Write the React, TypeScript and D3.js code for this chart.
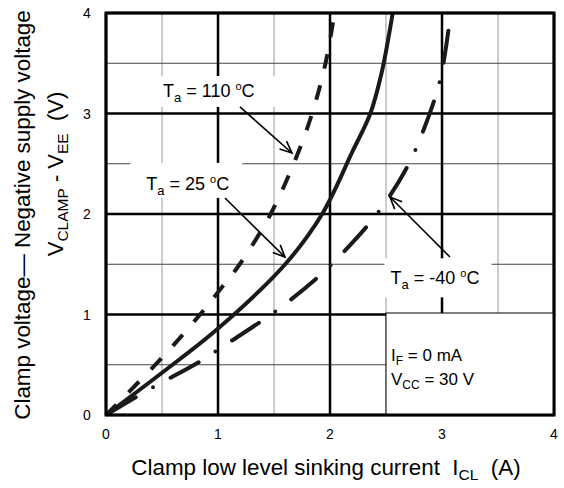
import React from 'react';
import * as d3 from 'd3';

const xTicks = [0, 1, 2, 3, 4];
const yTicks = [0, 1, 2, 3, 4];
const minorTicks = [0.5, 1.5, 2.5, 3.5];

const curve110: [number, number][] = [
  [0, 0], [0.5, 0.57], [0.84, 1], [1.02, 1.25], [1.2, 1.51], [1.47, 2],
  [1.69, 2.54], [1.84, 3], [1.96, 3.5], [2.04, 4],
];
const curve25: [number, number][] = [
  [0, 0], [0.5, 0.42], [1, 0.86], [1.6, 1.5], [1.93, 2],
  [2.2, 2.62], [2.36, 3], [2.46, 3.4], [2.56, 4],
];
const curveM40: [number, number][] = [
  [0, 0], [0.41, 0.27], [0.82, 0.52], [1.11, 0.73], [1.51, 1.03], [1.88, 1.36],
  [2.12, 1.62], [2.44, 2.03], [2.69, 2.47], [2.83, 2.82], [2.98, 3.32], [3.06, 3.85],
];

const W = 564, H = 488;
const L = 106, R = 554, T = 13, B = 415;
const FONT = '"Liberation Sans", Arial, sans-serif';

export default function App() {
  const x = d3.scaleLinear().domain([0, 4]).range([L, R]);
  const y = d3.scaleLinear().domain([0, 4]).range([B, T]);
  const line = d3.line<[number, number]>()
    .x(d => x(d[0])).y(d => y(d[1]))
    .curve(d3.curveCatmullRom.alpha(0.5));

  const arrow = (x1: number, y1: number, x2: number, y2: number, key: string) => {
    const px1 = x(x1), py1 = y(y1), px2 = x(x2), py2 = y(y2);
    const ang = Math.atan2(py2 - py1, px2 - px1);
    const len = 13, spread = 0.42;
    const a1 = [px2 - len * Math.cos(ang - spread), py2 - len * Math.sin(ang - spread)];
    const a2 = [px2 - len * Math.cos(ang + spread), py2 - len * Math.sin(ang + spread)];
    return (
      <g key={key} stroke="#000" strokeWidth={1.6} fill="none">
        <line x1={px1} y1={py1} x2={px2} y2={py2} />
        <polyline points={`${a1[0]},${a1[1]} ${px2},${py2} ${a2[0]},${a2[1]}`} />
      </g>
    );
  };

  const label = (tx: number, ty: number, temp: string, rx0: number, ry0: number, rw: number, rh: number) => (
    <g>
      <rect x={x(tx) + rx0} y={y(ty) + ry0} width={rw} height={rh} fill="#fff" />
      <text x={x(tx)} y={y(ty)} fontSize={18} fontFamily={FONT} fill="#000" xmlSpace="preserve">
        T<tspan fontSize={13} dy={5}>a</tspan><tspan dy={-5}> = {temp} </tspan>
        <tspan fontSize={11} dy={-7}>o</tspan><tspan dy={7}>C</tspan>
      </text>
    </g>
  );

  return (
    <svg width={W} height={H} style={{ position: 'absolute', left: 0, top: 0, background: '#fff' }}>
      <defs>
        <clipPath id="plot"><rect x={L} y={T} width={R - L} height={B - T} /></clipPath>
      </defs>
      <rect x={L} y={T} width={R - L} height={B - T} fill="#fff" />
      {minorTicks.map(v => (
        <line key={'vx' + v} x1={x(v)} x2={x(v)} y1={T} y2={B} stroke="#999" strokeWidth={1} />
      ))}
      {minorTicks.map(v => (
        <line key={'vy' + v} x1={L} x2={R} y1={y(v)} y2={y(v)} stroke="#444" strokeWidth={1} />
      ))}
      {xTicks.map(v => (
        <line key={'mx' + v} x1={x(v)} x2={x(v)} y1={T} y2={B} stroke="#000" strokeWidth={2.5} />
      ))}
      {yTicks.map(v => (
        <line key={'my' + v} x1={L} x2={R} y1={y(v)} y2={y(v)} stroke="#000" strokeWidth={2.5} />
      ))}

      {label(0.509, 3.164, '110', -6, -21, 122, 31)}
      {label(0.36, 2.24, '25', -16, -27, 112, 35)}
      {label(2.54, 1.3, '-40', -6, -26, 107, 39)}

      {/* legend box */}
      <rect x={386} y={313} width={R - 386} height={B - 313} fill="#fff" stroke="#000" strokeWidth={1} />

      <g clipPath="url(#plot)" fill="none" stroke="#1a1a1a">
        <path d={line(curve25) || ''} strokeWidth={4} />
        <path d={line(curve110) || ''} strokeWidth={4} strokeDasharray="15 17" />
        <path d={line(curveM40) || ''} strokeWidth={4} strokeDasharray="32 20 0 20" strokeDashoffset={-2.6} strokeLinecap="round" />
      </g>

      {arrow(1.196, 3.065, 1.66, 2.607, 'a1')}
      {arrow(1.0625, 2.159, 1.598, 1.572, 'a2')}
      {arrow(3.071, 1.572, 2.536, 2.169, 'a3')}

      <rect x={L} y={T} width={R - L} height={B - T} fill="none" stroke="#000" strokeWidth={3} />

      <text x={391} y={361} fontSize={17} fontFamily={FONT} xmlSpace="preserve">
        I<tspan fontSize={12} dy={4}>F</tspan><tspan dy={-4}> = 0 mA</tspan>
      </text>
      <text x={391} y={385} fontSize={17} fontFamily={FONT} xmlSpace="preserve">
        V<tspan fontSize={12} dy={4}>CC</tspan><tspan dy={-4}> = 30 V</tspan>
      </text>

      {xTicks.map(v => (
        <text key={'xt' + v} x={x(v)} y={439} fontSize={14} fontFamily={FONT} textAnchor="middle">{v}</text>
      ))}
      {yTicks.map(v => (
        <text key={'yt' + v} x={87} y={y(v) + 5} fontSize={14} fontFamily={FONT} textAnchor="middle">{v}</text>
      ))}

      <text x={326} y={475} fontSize={22.4} fontFamily={FONT} textAnchor="middle" xmlSpace="preserve">
        Clamp low level sinking current  I<tspan fontSize={15.5} dy={5}>CL</tspan><tspan dy={-5}>  (A)</tspan>
      </text>

      <text transform="translate(30,215) rotate(-90)" fontSize={22.4} fontFamily={FONT} textAnchor="middle">
        Clamp voltage— Negative supply voltage
      </text>
      <text transform="translate(63,174) rotate(-90)" fontSize={22} fontFamily={FONT} textAnchor="middle" xmlSpace="preserve">
        V<tspan fontSize={15.5} dy={5}>CLAMP</tspan><tspan dy={-5}> - V</tspan><tspan fontSize={15.5} dy={5}>EE</tspan><tspan dy={-5}>  (V)</tspan>
      </text>
    </svg>
  );
}
